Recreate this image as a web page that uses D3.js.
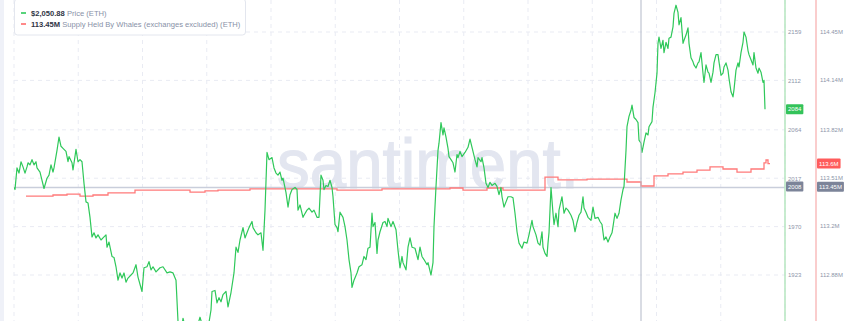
<!DOCTYPE html>
<html>
<head>
<meta charset="utf-8">
<script src="https://cdn.jsdelivr.net/npm/d3@7"></script>
<style>
  body { margin: 0; background: #fff; font-family: "Liberation Sans", Arial, sans-serif; }
</style>
</head>
<body>
<script>
// ETH price, [step, usd]
const priceSeries = [
  [0,2008],[1,2006],[3,2027],[5,2022],[7,2033],[9,2028],[11,2022],[13,2028],[14,2032],[16,2030],
  [18,2035],[20,2030],[22,2033],[23,2027],[26,2023],[28,2015],[30,2007],[33,2017],[35,2020],[37,2030],
  [39,2023],[40,2027],[43,2044],[45,2057],[47,2048],[49,2046],[52,2043],[54,2033],[55,2038],[58,2032],
  [59,2025],[62,2045],[64,2033],[66,2035],[68,2033],[70,2012],[72,1994],[74,1993],[76,1979],[78,1960],
  [80,1964],[82,1959],[84,1962],[87,1957],[89,1959],[92,1962],[93,1950],[95,1955],[98,1941],[100,1940],
  [102,1931],[104,1918],[106,1925],[108,1920],[110,1925],[112,1916],[114,1920],[117,1923],[119,1925],[122,1933],
  [124,1921],[128,1907],[130,1930],[133,1931],[135,1936],[137,1928],[139,1931],[142,1926],[146,1930],[149,1931],
  [153,1925],[156,1926],[159,1925],[162,1918],[164,1878],[166,1870],[168,1874],[169,1881],[171,1873],[174,1866],
  [177,1871],[180,1864],[183,1872],[186,1882],[189,1872],[192,1867],[195,1877],[197,1889],[198,1907],[201,1908],
  [203,1896],[205,1901],[207,1897],[209,1904],[212,1907],[214,1892],[217,1906],[220,1925],[222,1950],[224,1945],
  [226,1957],[228,1965],[229,1969],[231,1959],[233,1964],[235,1969],[238,1975],[239,1969],[242,1964],[244,1962],
  [247,1964],[249,1947],[251,1986],[253,2042],[255,2035],[258,2037],[260,2027],[262,2022],[264,2020],[266,2023],
  [268,2015],[269,2017],[272,2003],[274,1989],[276,2001],[278,2006],[281,2008],[283,2006],[284,1986],[286,1991],
  [289,1979],[290,1981],[293,1986],[295,1988],[298,1984],[300,1986],[303,1979],[305,1979],[307,2020],[309,2015],
  [310,2006],[312,2010],[314,2009],[316,2015],[318,2008],[319,1999],[321,1972],[323,1969],[324,1965],[326,1984],
  [329,1979],[331,1970],[333,1957],[335,1938],[337,1925],[338,1911],[340,1918],[343,1925],[345,1931],[348,1933],
  [350,1941],[352,1938],[354,1949],[356,1950],[358,1983],[359,1970],[361,1974],[363,1944],[364,1957],[366,1965],
  [369,1974],[371,1975],[373,1970],[374,1978],[377,1970],[379,1975],[382,1967],[384,1947],[386,1930],[388,1941],
  [389,1935],[392,1928],[394,1950],[396,1959],[398,1950],[401,1949],[404,1938],[406,1950],[408,1941],[410,1938],
  [413,1933],[414,1935],[417,1923],[419,1935],[420,1970],[422,2009],[424,2044],[425,2051],[427,2071],[429,2059],
  [430,2066],[432,2057],[434,2046],[435,2038],[437,2035],[439,2032],[441,2023],[443,2040],[444,2037],[446,2043],
  [448,2038],[451,2042],[454,2047],[456,2055],[458,2047],[461,2035],[463,2028],[464,2037],[467,2033],[468,2037],
  [470,2027],[472,2012],[474,2008],[476,2013],[478,2010],[481,2012],[483,2009],[485,2001],[487,2008],[488,1999],
  [490,1989],[492,1994],[494,1999],[497,1999],[499,1998],[501,1983],[503,1965],[505,1954],[508,1949],[510,1955],
  [513,1954],[515,1962],[518,1976],[519,1970],[522,1962],[524,1954],[526,1952],[528,1965],[529,1950],[531,1944],
  [533,1941],[534,1954],[535,1964],[537,2008],[539,1983],[540,1972],[542,1983],[544,1970],[545,1986],[548,1999],
  [550,1983],[552,1988],[554,1986],[557,1981],[559,1976],[561,1965],[563,1974],[565,1981],[567,1984],[569,1999],
  [570,1988],[572,1984],[574,1979],[577,1976],[579,1989],[581,1978],[584,1979],[586,1975],[588,1972],[590,1957],
  [592,1960],[594,1955],[596,1960],[598,1964],[599,1970],[601,1983],[603,1978],[605,1983],[607,1996],[609,2006],
  [610,2009],[612,2044],[613,2067],[615,2077],[617,2083],[618,2088],[620,2076],[622,2074],[624,2071],[625,2054],
  [627,2051],[628,2042],[630,2052],[632,2061],[634,2059],[635,2067],[638,2072],[639,2086],[641,2100],[643,2119],
  [644,2148],[645,2154],[647,2143],[649,2151],[650,2139],[652,2149],[654,2143],[655,2153],[657,2154],[659,2164],
  [660,2177],[662,2185],[664,2178],[665,2166],[667,2173],[669,2148],[670,2151],[672,2156],[674,2163],[675,2148],
  [677,2134],[679,2130],[680,2127],[682,2124],[684,2129],[685,2130],[687,2139],[689,2119],[690,2110],[692,2127],
  [694,2120],[695,2119],[697,2110],[699,2120],[700,2129],[702,2137],[704,2137],[705,2130],[707,2117],[709,2119],
  [710,2125],[712,2129],[714,2122],[715,2114],[717,2101],[719,2096],[720,2103],[722,2122],[724,2129],[725,2125],
  [727,2139],[729,2149],[730,2159],[732,2154],[734,2141],[735,2137],[737,2132],[739,2127],[740,2139],[742,2124],
  [744,2119],[745,2124],[747,2120],[749,2110],[750,2112],[751,2084]
];

// supply held by whales, millions ETH, [step, value]
const whaleSeries = [
  [12,113.390],[39,113.397],[53,113.403],[66,113.390],[79,113.397],[94,113.410],[121,113.429],[176,113.416],
  [191,113.423],[204,113.429],[236,113.436],[323,113.429],[368,113.436],[436,113.442],[449,113.429],[473,113.442],
  [489,113.429],[531,113.513],[544,113.494],[573,113.500],[613,113.481],[627,113.455],[640,113.520],[654,113.533],
  [669,113.545],[683,113.558],[696,113.578],[709,113.565],[723,113.545],[737,113.565],[750,113.604],[752,113.623],
  [754,113.600],[756,113.600]
];

const priceTicks = [1923, 1970, 2017, 2064, 2112, 2159];
const whaleTicks = [112.88, 113.2, 113.51, 113.82, 114.14, 114.45];
const weekTicks = d3.range(0, 772, 64.25);

const hoverStep = 627;
const hoverPrice = 2050.88;
const hoverWhale = 113.45;
const cursorPrice = 2008;

const width = 845;
const height = 321;

const x = d3.scaleLinear().domain([0, 771]).range([14, 785]);
const yPrice = d3.scaleLinear().domain([1923, 2159]).range([275, 32]);
const yWhale = d3.scaleLinear().domain([112.88, 114.45]).range([275, 32]);

const fmtM = d => d3.format(".2~f")(d) + "M";

const svg = d3.select("body").append("svg")
  .attr("width", width)
  .attr("height", height);

svg.append("rect")
  .attr("x", 0).attr("y", 0)
  .attr("width", 4).attr("height", height)
  .attr("fill", "#eff1f8");

// grid
svg.append("g")
  .selectAll("line")
  .data(weekTicks)
  .enter()
  .append("line")
  .attr("x1", d => x(d)).attr("x2", d => x(d))
  .attr("y1", 0).attr("y2", height)
  .attr("stroke", "#e9ebf3")
  .attr("stroke-dasharray", "4,4");

svg.append("g")
  .selectAll("line")
  .data(priceTicks)
  .enter()
  .append("line")
  .attr("x1", 14).attr("x2", 785)
  .attr("y1", d => yPrice(d)).attr("y2", d => yPrice(d))
  .attr("stroke", "#e9ebf3")
  .attr("stroke-dasharray", "4,4");

// watermark
svg.append("text")
  .attr("x", 277)
  .attr("y", 188)
  .attr("font-size", 71)
  .attr("textLength", 302)
  .attr("lengthAdjust", "spacingAndGlyphs")
  .attr("fill", "#e3e6f0")
  .attr("stroke", "#e3e6f0")
  .attr("stroke-width", 1.2)
  .text("santiment.");

// crosshair horizontal
svg.append("line")
  .attr("x1", 14).attr("x2", 785)
  .attr("y1", yPrice(cursorPrice)).attr("y2", yPrice(cursorPrice))
  .attr("stroke", "#c9cedb")
  .attr("stroke-width", 1.5);

const clip = svg.append("defs").append("clipPath").attr("id", "plot");
clip.append("rect").attr("x", 14).attr("y", 0).attr("width", 771).attr("height", height);

svg.append("path")
  .datum(whaleSeries)
  .attr("clip-path", "url(#plot)")
  .attr("fill", "none")
  .attr("stroke", "#ff7a7a")
  .attr("stroke-width", 1.3)
  .attr("d", d3.line()
    .curve(d3.curveStepAfter)
    .x(d => x(d[0]))
    .y(d => yWhale(d[1])));

svg.append("path")
  .datum(priceSeries)
  .attr("clip-path", "url(#plot)")
  .attr("fill", "none")
  .attr("stroke", "#2fc85a")
  .attr("stroke-width", 1.2)
  .attr("stroke-linejoin", "round")
  .attr("d", d3.line()
    .x(d => x(d[0]))
    .y(d => yPrice(d[1])));

// crosshair vertical
svg.append("line")
  .attr("x1", x(hoverStep)).attr("x2", x(hoverStep))
  .attr("y1", 0).attr("y2", height)
  .attr("stroke", "#b3b9c8")
  .attr("stroke-width", 1);

// legend
const legend = svg.append("g");
legend.append("rect")
  .attr("x", 14.5).attr("y", -1)
  .attr("width", 231).attr("height", 36)
  .attr("rx", 3)
  .attr("fill", "#fff")
  .attr("stroke", "#e3e6ee");

const legendRows = [
  { color: "#2fc85a", value: "$" + d3.format(",.2f")(hoverPrice), label: "Price (ETH)" },
  { color: "#ff6b6b", value: fmtM(hoverWhale), label: "Supply Held By Whales (exchanges excluded) (ETH)" }
];

legendRows.forEach((r, i) => {
  const yy = 13 + i * 11;
  legend.append("line")
    .attr("x1", 21).attr("x2", 26)
    .attr("y1", yy).attr("y2", yy)
    .attr("stroke", r.color)
    .attr("stroke-width", 1.6);
  const t = legend.append("text")
    .attr("x", 31).attr("y", yy)
    .attr("dy", "0.35em")
    .attr("font-size", 7.6);
  t.append("tspan")
    .attr("font-weight", "bold")
    .attr("fill", "#2f3445")
    .text(r.value);
  t.append("tspan")
    .attr("fill", "#8891a7")
    .text(" " + r.label);
});

// axis lines
svg.append("line")
  .attr("x1", 785).attr("x2", 785)
  .attr("y1", 0).attr("y2", height)
  .attr("stroke", "#b6e6bf")
  .attr("stroke-width", 1.5);

svg.append("line")
  .attr("x1", 816).attr("x2", 816)
  .attr("y1", 0).attr("y2", height)
  .attr("stroke", "#f8bcbc")
  .attr("stroke-width", 1.5);

const priceAxis = svg.append("g")
  .attr("transform", "translate(785,0)")
  .call(d3.axisRight(yPrice).tickValues(priceTicks).tickSize(0).tickPadding(3).tickFormat(d3.format("d")));

const whaleAxis = svg.append("g")
  .attr("transform", "translate(816,0)")
  .call(d3.axisRight(yWhale).tickValues(whaleTicks).tickSize(0).tickPadding(4).tickFormat(fmtM));

[priceAxis, whaleAxis].forEach(a => {
  a.select(".domain").remove();
  a.selectAll("text")
    .attr("font-family", "Liberation Sans, Arial, sans-serif")
    .attr("font-size", 6)
    .attr("fill", "#8e96aa");
});

function badge(xLeft, yc, label, fill) {
  const g = svg.append("g");
  const t = g.append("text")
    .attr("x", xLeft + 2)
    .attr("y", yc)
    .attr("dy", "0.35em")
    .attr("font-size", 6)
    .attr("fill", "#fff")
    .text(label);
  const w = t.node().getComputedTextLength();
  g.insert("rect", "text")
    .attr("x", xLeft).attr("y", yc - 5)
    .attr("width", w + 4).attr("height", 10)
    .attr("rx", 1)
    .attr("fill", fill);
}

const lastPrice = priceSeries[priceSeries.length - 1][1];
const lastWhale = whaleSeries[whaleSeries.length - 1][1];

badge(786, yPrice(lastPrice), d3.format("d")(lastPrice), "#33c35a");
badge(786, yPrice(cursorPrice) - 1, d3.format("d")(cursorPrice), "#7c8499");
badge(817, yWhale(lastWhale), fmtM(lastWhale), "#ff5c5c");
badge(817, yWhale(hoverWhale), fmtM(hoverWhale), "#7c8499");
</script>
</body>
</html>
